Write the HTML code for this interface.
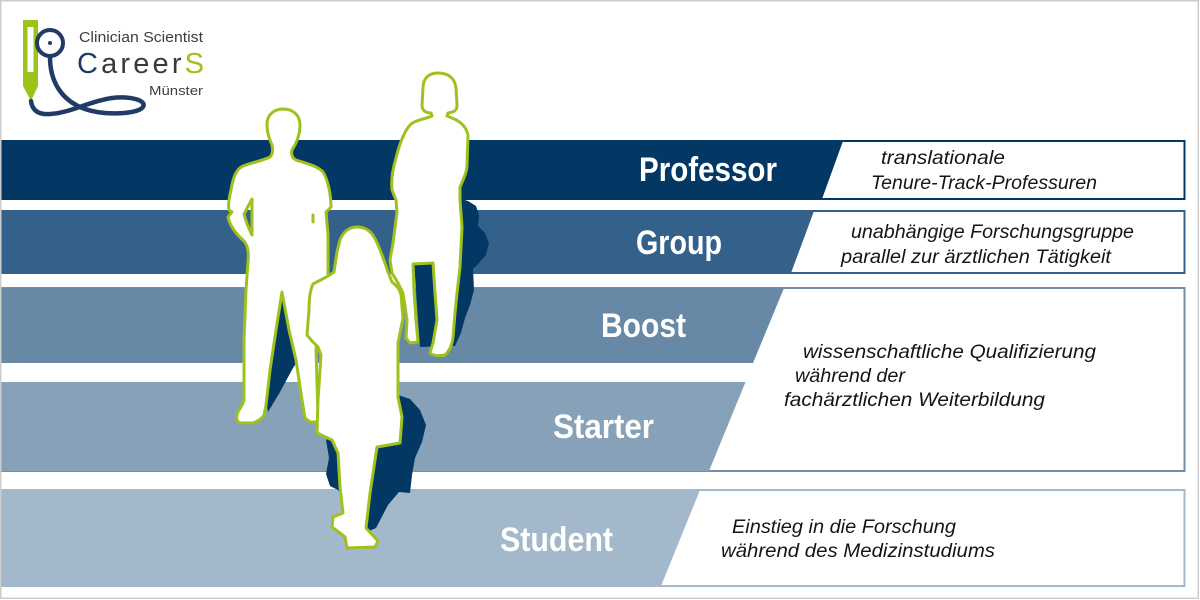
<!DOCTYPE html>
<html>
<head>
<meta charset="utf-8">
<style>
  html, body { margin:0; padding:0; background:#ffffff; }
  svg { display:block; }
  .lbl { font-family:"Liberation Sans", Arial, sans-serif; font-weight:bold; font-size:34px; fill:#ffffff; }
  .it { font-family:"Liberation Sans", Arial, sans-serif; font-style:italic; font-size:19.5px; fill:#151515; }
  .fig { fill:#ffffff; stroke:#9dc21e; stroke-width:3; stroke-linejoin:round; }
</style>
</head>
<body>
<svg width="1200" height="600" viewBox="0 0 1200 600" xmlns="http://www.w3.org/2000/svg">
  <rect x="0" y="0" width="1200" height="600" fill="#ffffff"/>

  <!-- Professor -->
  <rect x="-2" y="141" width="1186.5" height="58" fill="#ffffff" stroke="#033864" stroke-width="2"/>
  <polygon points="0,141 843,141 822,199 0,199" fill="#033864"/>
  <!-- Group -->
  <rect x="-2" y="211" width="1186.5" height="62" fill="#ffffff" stroke="#34618a" stroke-width="2"/>
  <polygon points="0,211 814,211 791,273 0,273" fill="#34618a"/>
  <!-- Boost / Starter box -->
  <rect x="-2" y="288" width="1186.5" height="183" fill="#ffffff" stroke="#6f8fab" stroke-width="2"/>
  <polygon points="0,288 784,288 753,363 0,363" fill="#6789a6"/>
  <polygon points="0,382 745.5,382 709,471 0,471" fill="#86a1b8"/>
  <!-- Student -->
  <rect x="-2" y="490" width="1186.5" height="96" fill="#ffffff" stroke="#a3b8ca" stroke-width="2"/>
  <polygon points="0,490 700,490 661,586 0,586" fill="#a3b8ca"/>

  <!-- outer frame -->
  <rect x="0.75" y="0.75" width="1197.5" height="597.5" fill="none" stroke="#cccccc" stroke-width="1.5"/>

  <!-- labels -->
  <text class="lbl" x="639" y="181" textLength="138" lengthAdjust="spacingAndGlyphs">Professor</text>
  <text class="lbl" x="636" y="254" textLength="86" lengthAdjust="spacingAndGlyphs">Group</text>
  <text class="lbl" x="601" y="337" textLength="85" lengthAdjust="spacingAndGlyphs">Boost</text>
  <text class="lbl" x="553" y="438" textLength="101" lengthAdjust="spacingAndGlyphs">Starter</text>
  <text class="lbl" x="500" y="551" textLength="113" lengthAdjust="spacingAndGlyphs">Student</text>

  <!-- descriptions -->
  <text class="it" x="881" y="164" textLength="124" lengthAdjust="spacingAndGlyphs">translationale</text>
  <text class="it" x="871" y="189" textLength="226" lengthAdjust="spacingAndGlyphs">Tenure-Track-Professuren</text>
  <text class="it" x="851" y="238" textLength="283" lengthAdjust="spacingAndGlyphs">unabhängige Forschungsgruppe</text>
  <text class="it" x="841" y="263" textLength="270" lengthAdjust="spacingAndGlyphs">parallel zur ärztlichen Tätigkeit</text>
  <text class="it" x="803" y="358" textLength="293" lengthAdjust="spacingAndGlyphs">wissenschaftliche Qualifizierung</text>
  <text class="it" x="795" y="382" textLength="110" lengthAdjust="spacingAndGlyphs">während der</text>
  <text class="it" x="784" y="406" textLength="261" lengthAdjust="spacingAndGlyphs">fachärztlichen Weiterbildung</text>
  <text class="it" x="732" y="533" textLength="224" lengthAdjust="spacingAndGlyphs">Einstieg in die Forschung</text>
  <text class="it" x="721" y="557" textLength="274" lengthAdjust="spacingAndGlyphs">während des Medizinstudiums</text>

  <!-- shadows -->
  <g fill="#033864">
    <polygon points="282,288 289,320 297,362 293,368 280,392 268,412 266,400 272,350 277,318"/>
    <polygon points="458,198 468,201 476,206 479,215 478,226 485,233 489,243 486,255 479,263 473,269 474,290 470,305 465,318 461,333 455,346 420,347 414,262 458,262"/>
    <polygon points="326,440 398,395 410,399 420,410 426,425 422,442 415,458 412,475 410,493 399,492 388,505 376,528 362,534 348,505 338,490 330,486 326,474 329,458"/>
  </g>

  <!-- man -->
  <path class="fig" fill-rule="evenodd" d="M283,109 C275,109 267,114 267,124 C267,134 270,140 272,145 C273,150 273,154 270,157 C262,161 250,163 243,166 C236,169 233,178 231,190 C229,198 228,205 229,210 L232,212 L228,217 C230,226 236,234 244,241 C248,246 249,252 248,262 L246,290 L244,340 L244,400 C243,405 240,408 238,412 C236,416 236,421 240,423 L253,423 C258,421 262,419 264,415 L266,405 L270,370 L276,330 L282,292 L289,330 L296,360 L302,400 L305,418 L310,422 L318,422 L318,415 L316,350 L322,300 L328,275 L328,235 L326,212 L331,207 C331,195 328,180 323,172 C318,166 305,163 296,160 C292,158 291,154 292,150 C296,144 300,136 300,125 C300,115 293,109 283,109 Z M252,199 L244,214 C246,222 249,229 252,235 Z"/>
  <line x1="313" y1="215" x2="313" y2="222" stroke="#9dc21e" stroke-width="3" stroke-linecap="round"/>

  <!-- woman right -->
  <path class="fig" d="M438,73 C429,73 423,78 423,88 L422,105 C422,110 425,113 431,113 L432,116 C425,119 416,120 411,124 C405,130 400,142 396,158 C393,168 391,180 392,190 L396,200 L397,212 L393,243 L390,260 L392,273 L398,283 L403,293 L407,320 L406,338 L410,343 L418,342 L416,320 L414,290 L413,264 L433,263 L435,293 L437,320 L433,343 L430,353 C433,356 440,356 445,355 C450,350 452,345 453,337 L455,313 L457,293 L460,267 L462,227 L460,200 L460,187 C463,180 467,172 467,165 L468,135 C466,126 460,121 452,118 L447,116 L448,113 C455,112 457,110 457,105 L456,88 C455,78 448,73 438,73 Z"/>

  <!-- woman middle -->
  <path class="fig" d="M357,227 C349,227 343,232 340,240 L337,252 L334,272 C328,277 320,280 313,284 C310,290 309,300 309,310 L307,335 L312,341 L318,347 L321,355 L318,400 L317,433 L332,440 L338,453 L340,487 L343,513 L333,517 L332,527 L345,537 L347,548 L375,547 L378,541 L366,528 L370,493 L377,447 L400,443 L402,417 L398,397 L398,343 L403,318 L401,295 C400,289 396,285 392,282 L388,272 C384,260 379,245 374,237 C370,230 364,227 357,227 Z"/>

  <!-- logo -->
  <path d="M23,20 H38 V86 L31,101 L23,86 Z" fill="#9dc21a"/>
  <rect x="27.5" y="27" width="6" height="45" fill="#ffffff"/>
  <path d="M50,57 C50,80 60,100 85,109 C105,116 138,114 143,107 C147,100 130,96 112,98 C90,101 70,113 50,114 C38,115 32,110 31,101" fill="none" stroke="#1f3b66" stroke-width="4.5" stroke-linecap="round"/>
  <circle cx="50" cy="43" r="13" fill="#ffffff" stroke="#1f3b66" stroke-width="4"/>
  <circle cx="50" cy="43" r="2" fill="#1f3b66"/>
  <text x="79" y="42" font-family="Liberation Sans, Arial, sans-serif" font-size="14.5" fill="#3d3d3d" textLength="124" lengthAdjust="spacingAndGlyphs">Clinician Scientist</text>
  <text x="77" y="73" font-family="Liberation Sans, Arial, sans-serif" font-size="29" textLength="127" lengthAdjust="spacing"><tspan fill="#1f3b66">C</tspan><tspan fill="#3a3a3a">areer</tspan><tspan fill="#9dc21a">S</tspan></text>
  <text x="149" y="95" font-family="Liberation Sans, Arial, sans-serif" font-size="13" fill="#3d3d3d" textLength="54" lengthAdjust="spacingAndGlyphs">Münster</text>
</svg>
</body>
</html>
